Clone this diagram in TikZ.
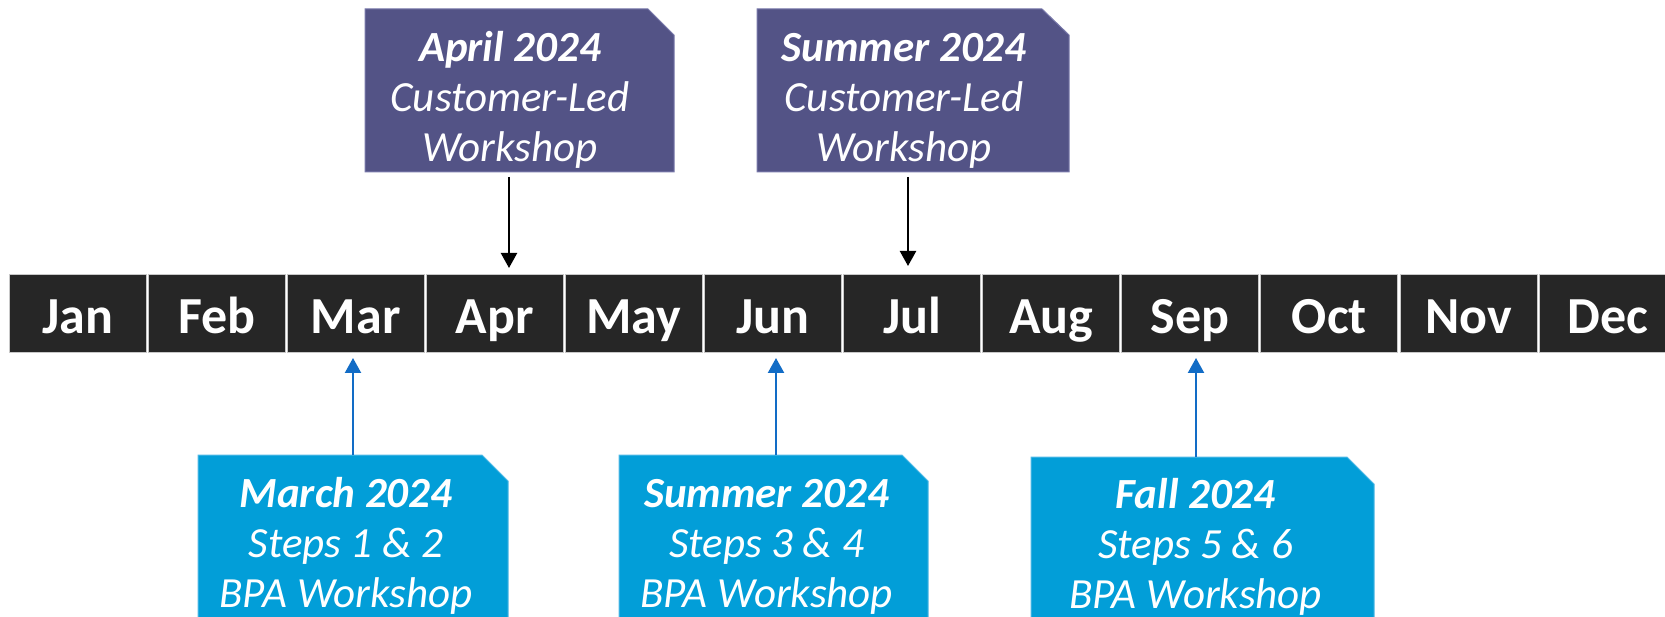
\documentclass[tikz,border=0pt]{standalone}
\usepackage{fontspec}
\setmainfont{Carlito}
\usetikzlibrary{arrows.meta}
\definecolor{purp}{RGB}{83,83,134}
\definecolor{purpline}{RGB}{120,120,170}
\definecolor{bbox}{RGB}{2,158,216}
\definecolor{bboxline}{RGB}{80,185,230}
\definecolor{barr}{RGB}{18,108,198}
\definecolor{cell}{RGB}{38,38,38}
\definecolor{cellline}{RGB}{200,200,200}
\tikzset{
  month/.style={fill=cell, draw=cellline, line width=1pt, minimum width=137pt, minimum height=78pt,
    inner sep=0pt, text=white, font=\fontsize{52}{60}\selectfont\bfseries, text height=40pt, text depth=0pt},
  shapebox/.style={inner sep=0pt, outer sep=0pt},
  boxtext/.style={inner sep=0pt, text=white, align=center, anchor=base, font=\fontsize{43}{50}\selectfont\itshape},
  blkarrow/.style={draw=black, line width=2.2pt, -{Triangle[length=15pt,width=16pt]}},
  bluearrow/.style={draw=barr, line width=2.2pt, -{Triangle[length=15pt,width=16pt]}},
}
\begin{document}
\begin{tikzpicture}[x=1pt,y=-1pt]
\useasboundingbox (0,0) rectangle (1665,617);
\clip (0,0) rectangle (1665,617);
\fill[white] (0,0) rectangle (1665,617);

% month bar
\foreach \m [count=\i] in {Jan,Feb,Mar,Apr,May,Jun,Jul,Aug,Sep,Oct,Nov,Dec}
  \node[month] (m\i) at ({77.5+139.1*(\i-1)},314) {\m};

% top boxes
\node[shapebox, minimum width=309pt, minimum height=163pt] (A) at (519.5,90.5) {};
\filldraw[fill=purp, draw=purpline, line width=1pt] (A.south west) -- (A.north west) -- ([xshift=-26pt]A.north east) -- ([yshift=-26pt]A.north east) -- (A.south east) -- cycle;
\node[boxtext] (At) at (510,162) {\textbf{April 2024}\\Customer-Led\\Workshop};

\node[shapebox, minimum width=312pt, minimum height=163pt] (S) at (913,90.5) {};
\filldraw[fill=purp, draw=purpline, line width=1pt] (S.south west) -- (S.north west) -- ([xshift=-27pt]S.north east) -- ([yshift=-26pt]S.north east) -- (S.south east) -- cycle;
\node[boxtext] (St) at (904,162) {\textbf{Summer 2024}\\Customer-Led\\Workshop};

% bottom boxes
\node[shapebox, minimum width=310pt, minimum height=185pt] (B1) at (353,547.5) {};
\filldraw[fill=bbox, draw=bboxline, line width=1pt] (B1.south west) -- (B1.north west) -- ([xshift=-26pt]B1.north east) -- ([yshift=-26pt]B1.north east) -- (B1.south east) -- cycle;
\node[boxtext] (B1t) at (346,607) {\textbf{March 2024}\\Steps 1 \& 2\\BPA Workshop};

\node[shapebox, minimum width=309pt, minimum height=185pt] (B2) at (773.5,547.5) {};
\filldraw[fill=bbox, draw=bboxline, line width=1pt] (B2.south west) -- (B2.north west) -- ([xshift=-26pt]B2.north east) -- ([yshift=-26pt]B2.north east) -- (B2.south east) -- cycle;
\node[boxtext] (B2t) at (766.5,607) {\textbf{Summer 2024}\\Steps 3 \& 4\\BPA Workshop};

\node[shapebox, minimum width=343pt, minimum height=183pt] (B3) at (1202.5,548.5) {};
\filldraw[fill=bbox, draw=bboxline, line width=1pt] (B3.south west) -- (B3.north west) -- ([xshift=-27pt]B3.north east) -- ([yshift=-27pt]B3.north east) -- (B3.south east) -- cycle;
\node[boxtext] (B3t) at (1195.5,608) {\textbf{Fall 2024}\\Steps 5 \& 6\\BPA Workshop};

% connectors
\coordinate (a1) at (509,268);
\coordinate (a2) at (908,266);
\draw[blkarrow, shorten <=5pt] (A.south -| a1) -- (a1);
\draw[blkarrow, shorten <=5pt] (S.south -| a2) -- (a2);

\coordinate (c1) at (353,358);
\coordinate (c2) at (776,358);
\coordinate (c3) at (1196,358);
\draw[bluearrow] (B1.north -| c1) -- (c1);
\draw[bluearrow] (B2.north -| c2) -- (c2);
\draw[bluearrow] (B3.north -| c3) -- (c3);
\end{tikzpicture}
\end{document}
